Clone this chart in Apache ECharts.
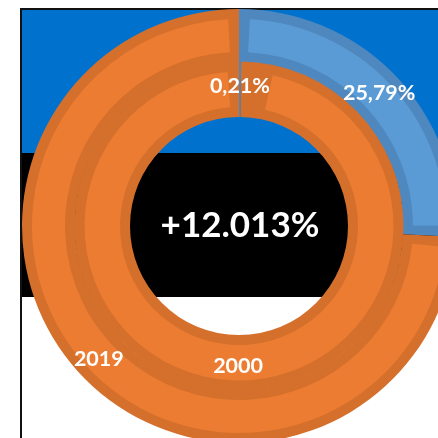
<!DOCTYPE html>
<html>
<head>
<meta charset="utf-8">
<script src="https://cdn.jsdelivr.net/npm/echarts@6/dist/echarts.min.js"></script>
<style>
  html, body { margin: 0; padding: 0; background: #fff; }
  #chart { width: 438px; height: 438px; }
</style>
</head>
<body>
<div id="chart"></div>
<script>
  // 数据
  const parts = ['share', 'rest']
  const outer2019 = [25.79, 74.21]
  const inner2000 = [0.21, 99.79]
  const years = ['2019', '2000']
  const centerText = '+12.013%'

  const lightColors = ['#5b9bd5', '#ec7c31']
  const darkColors = ['#4f88bf', '#d4702c']
  const font = 'Lato'

  function ringData(values, colors) {
    return values.map((v, i) => ({ name: parts[i], value: v, itemStyle: { color: colors[i] } }))
  }

  // 底层深色环(带标签) + 上层浅色环 (padAngle 留出深色边)
  function ring(name, values, outer, inner, pad) {
    return [{
      name: name,
      type: 'pie',
      silent: true,
      center: [239, 226],
      radius: [inner, outer],
      startAngle: 90,
      avoidLabelOverlap: false,
      label: {
        show: true,
        position: 'inside',
        color: '#fff',
        fontSize: 21.5,
        fontWeight: 'bold',
        fontFamily: font,
        formatter: p => p.dataIndex === 0 ? p.value.toFixed(2).replace('.', ',') + '%' : p.seriesName
      },
      labelLine: { show: false },
      data: ringData(values, darkColors)
    }, {
      name: name,
      type: 'pie',
      silent: true,
      center: [239, 226],
      radius: [inner + 10, outer - 10],
      startAngle: 90,
      padAngle: pad,
      label: { show: false },
      labelLine: { show: false },
      data: ringData(values, lightColors)
    }]
  }

  const chart = echarts.init(document.getElementById('chart'), null, { renderer: 'canvas' })
  chart.setOption({
    animation: false,
    graphic: [
      { type: 'rect', z: -10, shape: { x: 21, y: 9, width: 430, height: 144 }, style: { fill: '#0072ce' } },
      { type: 'rect', z: -10, shape: { x: 21, y: 153, width: 430, height: 144 }, style: { fill: '#000' } },
      { type: 'rect', z: -10, shape: { x: 21, y: 297, width: 430, height: 150 }, style: { fill: '#fff' } },
      { type: 'line', z: -9, shape: { x1: 20, y1: 9, x2: 440, y2: 9 }, style: { stroke: '#111', lineWidth: 2 } },
      { type: 'line', z: -9, shape: { x1: 21, y1: 8, x2: 21, y2: 440 }, style: { stroke: '#111', lineWidth: 2 } },
      {
        type: 'text', z: 100, x: 240, y: 226,
        style: {
          text: centerText, fill: '#fff', fontSize: 35, fontWeight: 'bold', fontFamily: font,
          align: 'center', verticalAlign: 'middle'
        }
      }
    ],
    series: [
      ...ring(years[0], outer2019, 217, 164, 6),
      ...ring(years[1], inner2000, 164.5, 109, 8.4)
    ]
  })
</script>
</body>
</html>
